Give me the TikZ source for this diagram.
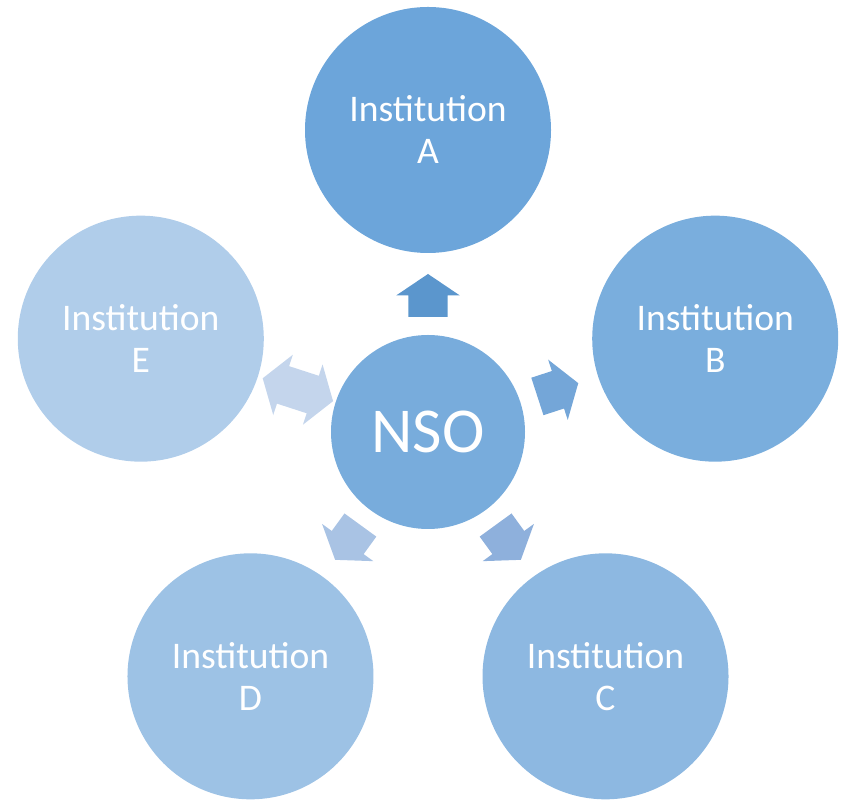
\documentclass[tikz,border=0pt]{standalone}
\usepackage{fontspec}
\setmainfont{Carlito}
\usetikzlibrary{shapes.arrows,calc}
\definecolor{instA}{HTML}{6CA5DA}
\definecolor{instB}{HTML}{7AAEDD}
\definecolor{instC}{HTML}{8DB8E1}
\definecolor{instD}{HTML}{9DC2E5}
\definecolor{instE}{HTML}{B0CDEA}
\definecolor{nsofill}{HTML}{78ACDC}
\definecolor{arrA}{HTML}{5B96CD}
\definecolor{arrB}{HTML}{74A6D8}
\definecolor{arrC}{HTML}{8EB0DC}
\definecolor{arrD}{HTML}{A9C3E4}
\definecolor{arrE}{HTML}{C4D5EC}

\begin{document}
\begin{tikzpicture}[x=1pt,y=1pt,
    inst/.style={circle, minimum size=246pt, inner sep=0pt, text=white, align=center,
                 font=\fontsize{37.6}{42}\selectfont},
    hub/.style={circle, minimum size=194pt, inner sep=0pt, text=white, fill=nsofill,
                font=\fontsize{64}{64}\selectfont},
    blockarrow/.style={single arrow, minimum height=43pt, inner xsep=0pt, inner ysep=19.5pt,
                 single arrow head extend=12pt, single arrow tip angle=112},
    twoway/.style={double arrow, minimum height=74pt, inner xsep=0pt, inner ysep=19.5pt,
                 double arrow head extend=12pt, double arrow tip angle=112}]
            \useasboundingbox (0,0) rectangle (846,800);
            % --- hub ---
            \node[hub] (nso) at (428,368) {NSO};
            
            % --- institutions round the hub ---
            \node[inst, fill=instA] (instA) at ($(nso)+(90:302)$) {Institution\\A};
            \node[inst, fill=instB] (instB) at ($(nso)+(18:302)$) {Institution\\B};
            \node[inst, fill=instC] (instC) at ($(nso)+(-54:302)$) {Institution\\C};
            \node[inst, fill=instD] (instD) at ($(nso)+(-126:302)$) {Institution\\D};
            \node[inst, fill=instE] (instE) at ($(nso)+(162:302)$) {Institution\\E};
            
            % --- block arrows ---
            \node[blockarrow, fill=arrA, rotate=90] (toA) at ($(nso)!0.43!(instA)$) {};
            \node[blockarrow, fill=arrB, rotate=18] (toB) at ($(nso)!0.43!(instB)$) {};
            \node[blockarrow, fill=arrC, rotate=-54] (toC) at ($(nso)!0.43!(instC)$) {};
            \node[blockarrow, fill=arrD, rotate=-126] (toD) at ($(nso)!0.43!(instD)$) {};
            \node[twoway, fill=arrE, rotate=162] (toE) at ($(nso)!0.453!(instE)$) {};
\end{tikzpicture}
\end{document}
